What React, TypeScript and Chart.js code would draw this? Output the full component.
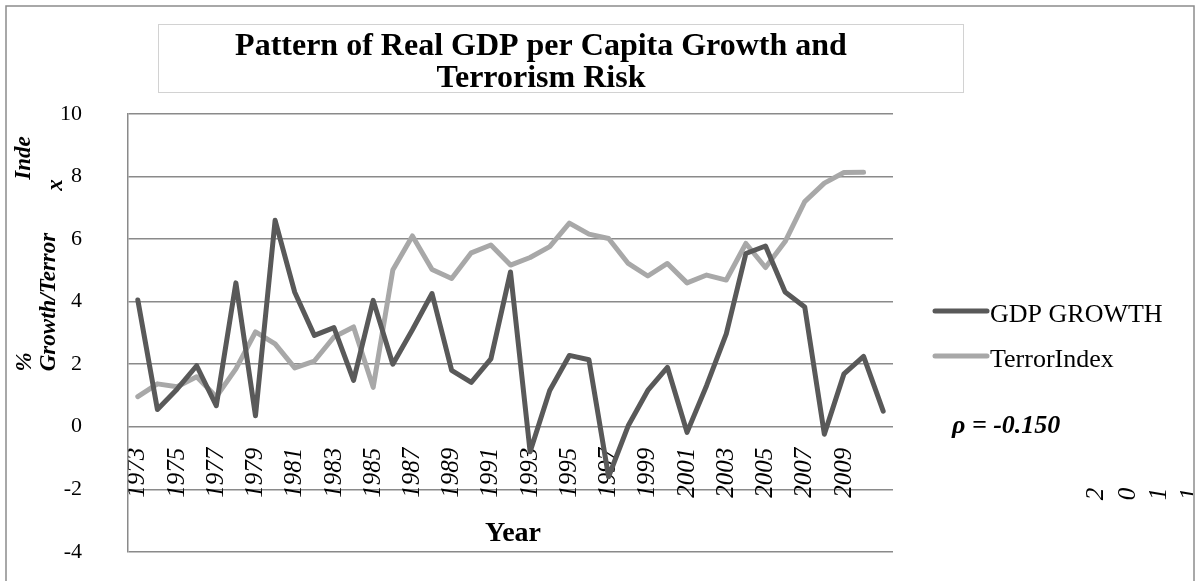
import React, { useEffect, useRef } from 'react';
import { Chart, registerables } from 'chart.js';

Chart.register(...registerables);

// Annual series, 1973–2011
const years = [
  '1973', '1974', '1975', '1976', '1977', '1978', '1979', '1980', '1981', '1982',
  '1983', '1984', '1985', '1986', '1987', '1988', '1989', '1990', '1991', '1992',
  '1993', '1994', '1995', '1996', '1997', '1998', '1999', '2000', '2001', '2002',
  '2003', '2004', '2005', '2006', '2007', '2008', '2009', '2010', '2011',
];

// Real GDP per capita growth (%)
const gdpGrowth = [
  4.05, 0.55, 1.2, 1.95, 0.67, 4.6, 0.35, 6.6, 4.3, 2.92,
  3.17, 1.48, 4.04, 2.0, 3.1, 4.26, 1.8, 1.42, 2.17, 4.95,
  -0.8, 1.16, 2.28, 2.14, -1.6, 0.03, 1.16, 1.9, -0.18, 1.32,
  2.97, 5.54, 5.78, 4.31, 3.83, -0.24, 1.69, 2.25, 0.5,
];

// Terrorism risk index (no reading for 2011)
const terrorIndex = [
  0.96, 1.37, 1.28, 1.6, 0.96, 1.85, 3.03, 2.65, 1.88, 2.1,
  2.87, 3.19, 1.26, 5.01, 6.1, 5.03, 4.74, 5.56, 5.81, 5.17,
  5.41, 5.76, 6.51, 6.16, 6.02, 5.22, 4.82, 5.22, 4.6, 4.85,
  4.69, 5.86, 5.09, 5.92, 7.2, 7.79, 8.13, 8.14, null,
];

// Years labelled on the category axis
const shownYearTicks = [
  '1973', '1975', '1977', '1979', '1981', '1983', '1985', '1987', '1989', '1991',
  '1993', '1995', '1997', '1999', '2001', '2003', '2005', '2007', '2009',
];

// The last year's label, drawn glyph by glyph at the right edge
const strayYearGlyphs = ['2', '0', '1', '1'];

const yMin = -4;
const yMax = 10;
const yStep = 2;

const titleLines = ['Pattern of Real GDP per Capita Growth and', 'Terrorism Risk'];
const seriesNames = ['GDP GROWTH', 'TerrorIndex'];
const correlationText = 'ρ = -0.150';
const xTitle = 'Year';

const serif = "'Liberation Serif', 'Times New Roman', serif";
const gdpColor = '#595959';
const terrorColor = '#a8a8a8';
const gridColor = '#8a8a8a';
const lineWidth = 5;

// the canvas runs a little past the bottom of the window; the frame continues below
const canvasWidth = 1198;
const canvasHeight = 611;

const decorations = {
  id: 'decorations',
  afterDraw(chart: any) {
    const ctx: CanvasRenderingContext2D = chart.ctx;
    ctx.save();

    // title box and title
    ctx.strokeStyle = '#d2d2d2';
    ctx.lineWidth = 1;
    ctx.strokeRect(158.5, 24.5, 805, 68);
    ctx.fillStyle = '#000';
    ctx.font = `bold 32px ${serif}`;
    ctx.textAlign = 'center';
    ctx.textBaseline = 'alphabetic';
    ctx.fillText(titleLines[0], 541, 55);
    ctx.fillText(titleLines[1], 541, 87);

    const rotated = (text: string, cx: number, cy: number, font: string) => {
      ctx.save();
      ctx.translate(cx, cy);
      ctx.rotate(-Math.PI / 2);
      ctx.font = font;
      ctx.textAlign = 'center';
      ctx.textBaseline = 'middle';
      ctx.fillText(text, 0, 0);
      ctx.restore();
    };

    // vertical axis title, wrapped across two columns
    const yTitleFont = `bold italic 23px ${serif}`;
    rotated('Inde', 24, 158, yTitleFont);
    rotated('x', 56, 185, yTitleFont);
    rotated('Growth/Terror', 49, 302, yTitleFont);
    rotated('%', 25, 362, yTitleFont);

    // horizontal axis title
    ctx.font = `bold 28px ${serif}`;
    ctx.textAlign = 'center';
    ctx.textBaseline = 'middle';
    ctx.fillText(xTitle, 513, 534);

    // legend
    const ds = chart.data.datasets;
    const legendY = [311, 356];
    ds.forEach((d: any, i: number) => {
      ctx.strokeStyle = d.borderColor;
      ctx.lineWidth = lineWidth;
      ctx.lineCap = 'round';
      ctx.beginPath();
      ctx.moveTo(935, legendY[i]);
      ctx.lineTo(987, legendY[i]);
      ctx.stroke();
      ctx.fillStyle = '#000';
      ctx.font = `26px ${serif}`;
      ctx.textAlign = 'left';
      ctx.textBaseline = 'middle';
      ctx.fillText(seriesNames[i], 990, legendY[i] + 4);
    });

    // correlation note
    ctx.font = `bold italic 26px ${serif}`;
    ctx.textAlign = 'left';
    ctx.textBaseline = 'middle';
    ctx.fillText(correlationText, 952, 426);

    // stray last-year label at the right edge
    ctx.save();
    ctx.beginPath();
    ctx.rect(0, 0, 1193, canvasHeight);
    ctx.clip();
    const glyphX = [1096, 1128, 1159, 1190];
    strayYearGlyphs.forEach((g, i) => rotated(g, glyphX[i], 494, `italic 25px ${serif}`));
    ctx.restore();

    // outer frame
    ctx.strokeStyle = '#8c8c8c';
    ctx.lineWidth = 1.5;
    ctx.strokeRect(6, 6, 1188, canvasHeight);

    ctx.restore();
  },
};

export default function App() {
  const canvasRef = useRef<HTMLCanvasElement>(null);

  useEffect(() => {
    const canvas = canvasRef.current;
    if (!canvas) return;
    const chart = new Chart(canvas, {
      type: 'line',
      data: {
        labels: years,
        datasets: [
          {
            label: seriesNames[0],
            data: gdpGrowth,
            borderColor: gdpColor,
            backgroundColor: gdpColor,
            borderWidth: lineWidth,
            borderJoinStyle: 'round',
            borderCapStyle: 'round',
            pointRadius: 0,
            tension: 0,
            fill: false,
          },
          {
            label: seriesNames[1],
            data: terrorIndex,
            borderColor: terrorColor,
            backgroundColor: terrorColor,
            borderWidth: lineWidth,
            borderJoinStyle: 'round',
            borderCapStyle: 'round',
            pointRadius: 0,
            tension: 0,
            fill: false,
          },
        ],
      },
      options: {
        responsive: false,
        animation: false,
        devicePixelRatio: 1,
        layout: { padding: { left: 0, top: 114, right: 305, bottom: 0 } },
        plugins: {
          legend: { display: false },
          title: { display: false },
          tooltip: { enabled: false },
        },
        scales: {
          x: {
            type: 'category',
            offset: true,
            position: { y: 0 },
            grid: { display: false, drawTicks: false },
            border: { display: false },
            ticks: {
              autoSkip: false,
              minRotation: 90,
              maxRotation: 90,
              padding: 21,
              color: '#000',
              font: { family: serif, size: 25, style: 'italic' },
              callback: (_v: any, i: number) =>
                shownYearTicks.includes(years[i]) ? years[i] : '',
            },
          },
          y: {
            min: yMin,
            max: yMax,
            ticks: {
              stepSize: yStep,
              padding: 46,
              color: '#000',
              font: { family: serif, size: 22 },
            },
            grid: { color: gridColor, lineWidth: 1.5, drawTicks: false },
            border: { display: true, color: gridColor, width: 1.5 },
            afterFit: (scale: any) => {
              scale.width = 128;
            },
          },
        },
      } as any,
      plugins: [decorations],
    });
    return () => chart.destroy();
  }, []);

  return (
    <div
      style={{
        position: 'fixed',
        left: 0,
        top: 0,
        width: canvasWidth,
        height: canvasHeight,
        background: '#fff',
      }}
    >
      <canvas
        ref={canvasRef}
        width={canvasWidth}
        height={canvasHeight}
        style={{ display: 'block' }}
      />
    </div>
  );
}
